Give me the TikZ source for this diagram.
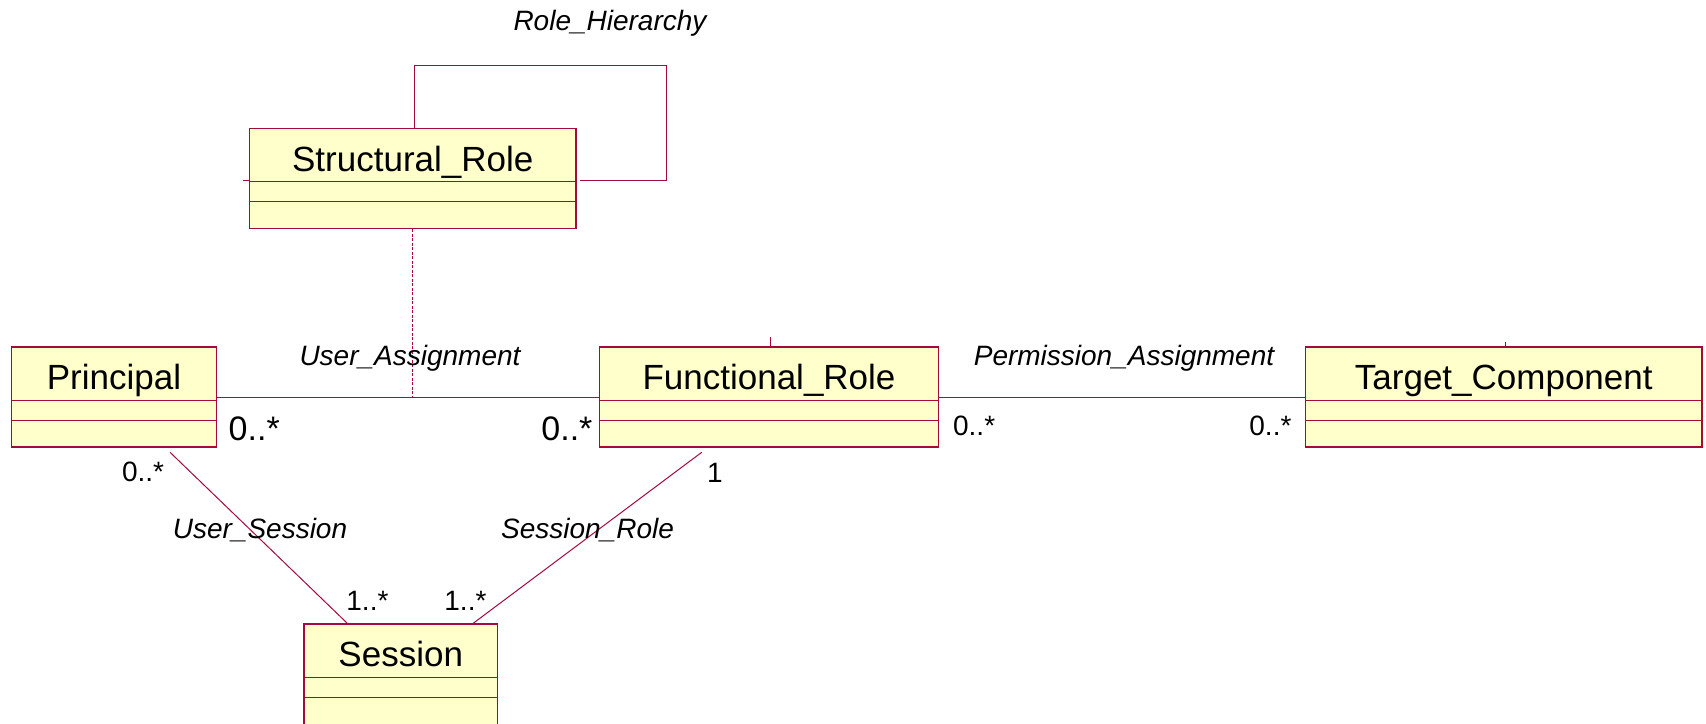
\documentclass[tikz,border=0pt]{standalone}
\usepackage{fontspec}
\setmainfont{Liberation Sans}
\usepackage{xcolor}
\usepackage{tikz}
\usetikzlibrary{calc}
\definecolor{roseline}{RGB}{165,10,60}
\definecolor{rosefill}{RGB}{255,255,204}

\begin{document}
\begin{tikzpicture}[x=0.5pt, y=-0.5pt,
    umlclass/.style={draw=roseline, fill=rosefill, line width=0.75pt, inner sep=0pt, minimum height=50pt},
    classname/.style={anchor=base, inner sep=0pt, font=\fontsize{17.5}{21}\selectfont},
    assoc/.style={roseline, line width=0.5pt},
    assoclabel/.style={anchor=base, inner sep=0pt, font=\fontsize{14}{17}\selectfont\itshape},
    mult/.style={anchor=base west, inner sep=0pt, font=\fontsize{14}{17}\selectfont},
    bigmult/.style={mult, font=\fontsize{17}{20}\selectfont}]
    \useasboundingbox (0,0) rectangle (1706,723);
    \clip (0,0) rectangle (1706,723);
    \node[umlclass, minimum width=163.25pt] (structural) at (412.75,178.4) {};
    \node[umlclass, minimum width=102.5pt] (principal) at (114,397) {};
    \node[umlclass, minimum width=169.5pt] (functional) at (769,397) {};
    \node[umlclass, minimum width=198.25pt] (target) at (1503.75,397) {};
    \node[umlclass, minimum width=96.75pt, minimum height=54pt] (session) at (400.75,678) {};
    \foreach \c in {structural,principal,functional,target,session} {
        \draw[roseline, line width=0.75pt] ([yshift=-27pt]\c.north west) -- ([yshift=-27pt]\c.north east);
        \draw[roseline, line width=0.75pt] ([yshift=-37pt]\c.north west) -- ([yshift=-37pt]\c.north east);
    }
    \node[classname] (structural-name) at ([yshift=-21.75pt]structural.north) {Structural\_Role};
    \node[classname] (principal-name) at ([yshift=-21.75pt]principal.north) {Principal};
    \node[classname] (functional-name) at ([yshift=-21.75pt]functional.north) {Functional\_Role};
    \node[classname] (target-name) at ([yshift=-21.75pt]target.north) {Target\_Component};
    \node[classname] (session-name) at ([yshift=-21.75pt]session.north) {Session};

    \coordinate (hierarchy) at (666,65.5);
    \draw[assoc] ([xshift=1pt]structural.north) |- (hierarchy) |- ([xshift=1.5pt,yshift=-1pt]structural.east);
    \draw[assoc] ([yshift=-1pt]structural.west) -- ++(-6,0);
    \draw[assoc] (principal) -- (functional);
    \draw[assoc] (functional) -- (target);
    \draw[assoc, line width=0.4pt, dash pattern=on 1.5pt off 0.75pt] (structural) -- (structural |- principal);
    \draw[assoc] ([xshift=28pt,yshift=-2.25pt]principal.south) -- ([xshift=22pt]session.north west);
    \draw[assoc] ([xshift=51.5pt,yshift=-2.25pt]functional.south west) -- ([xshift=-12.5pt]session.north east);
    \draw[assoc] ([xshift=0.5pt]functional.north) -- ++(0,-9);
    \draw[assoc] ([xshift=1pt]target.north) -- ++(0,-4);

    \node[assoclabel] (rolehier) at (610,30) {Role\_Hierarchy};
    \node[assoclabel] (userassign) at (410,365) {User\_Assignment};
    \node[assoclabel] (permassign) at (1124,365) {Permission\_Assignment};
    \node[assoclabel] (usersess) at (260,538) {User\_Session};
    \node[assoclabel] (sessrole) at (587.5,538) {Session\_Role};

    \node[bigmult] (ua-principal) at (228.3,440.7) {0..*};
    \node[bigmult] (ua-functional) at (541,440.7) {0..*};
    \node[mult] (pa-functional) at (952.7,435) {0..*};
    \node[mult] (pa-target) at (1249,435) {0..*};
    \node[mult] (us-principal) at (121.7,481.7) {0..*};
    \node[mult] (sr-functional) at (706.7,482.3) {1};
    \node[mult] (us-session) at (346,610) {1..*};
    \node[mult] (sr-session) at (444,610) {1..*};
\end{tikzpicture}
\end{document}
